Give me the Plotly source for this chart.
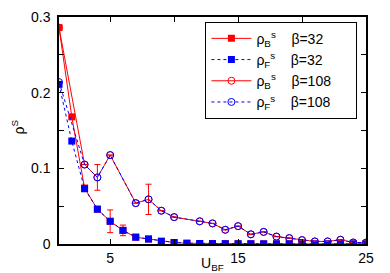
import plotly.graph_objects as go

# ---- data ----
U32 = list(range(1, 26))
rhoB32 = [0.286, 0.168, 0.074, 0.046, 0.030, 0.018, 0.009, 0.0066, 0.0036, 0.002,
          0.001, 0.0007, 0.0005, 0.0004, 0.0003, 0.0003, 0.0002, 0.0002, 0.0002, 0.0001,
          0.0001, 0.0001, 0.0001, 0.0001, 0.0001]
rhoF32 = [0.211, 0.136, 0.073, 0.046, 0.030, 0.018, 0.009, 0.0066, 0.0036, 0.002,
          0.001, 0.0007, 0.0005, 0.0004, 0.0003, 0.0003, 0.0002, 0.0002, 0.0002, 0.0001,
          0.0001, 0.0001, 0.0001, 0.0001, 0.0001]
errB32 = [None, None, None, None, 0.015, 0.007] + [None] * 19

U108 = [1, 3, 4, 5, 7, 8, 9, 10, 12, 13, 14, 15, 16, 17, 18, 19, 20, 21, 22, 23, 24, 25]
rhoB108 = [0.286, 0.105, 0.088, 0.1175, 0.054, 0.059, 0.044, 0.0355, 0.0300, 0.0272,
           0.0188, 0.0236, 0.0128, 0.016, 0.0098, 0.0078, 0.0052, 0.0034, 0.0034, 0.0056,
           0.002, 0.0018]
rhoF108 = [0.214, 0.105, 0.088, 0.1175, 0.054, 0.059, 0.044, 0.0355, 0.0300, 0.0272,
           0.0188, 0.0236, 0.0128, 0.016, 0.0098, 0.0078, 0.0052, 0.0034, 0.0034, 0.0056,
           0.002, 0.0018]
errB108 = [None, None, 0.017, None, None, 0.020] + [None] * 16

xtick_vals = [5, 10, 15, 20, 25]
xtick_text = ["5", "", "15", "", "25"]
ytick_vals = [0, 0.05, 0.1, 0.15, 0.2, 0.25, 0.3]
ytick_text = ["0", "", "0.1", "", "0.2", "", "0.3"]

names = [
    "ρ<sub>B</sub><sup>s</sup>\u00a0\u00a0\u00a0\u00a0β=32",
    "ρ<sub>F</sub><sup>s</sup>\u00a0\u00a0\u00a0\u00a0β=32",
    "ρ<sub>B</sub><sup>s</sup>\u00a0\u00a0\u00a0\u00a0β=108",
    "ρ<sub>F</sub><sup>s</sup>\u00a0\u00a0\u00a0\u00a0β=108",
]
PAD = "\u00a0" * 7

RED = "#ff0000"
BLUE = "#0000ff"
FONT = "Liberation Sans, Arial, sans-serif"

fig = go.Figure()
fig.add_trace(go.Scatter(
    x=U32, y=rhoB32, mode="lines+markers", name=names[0] + PAD,
    line=dict(color=RED, width=1),
    marker=dict(symbol="square", size=7, color=RED),
    error_y=dict(type="data", array=errB32, visible=True, color=RED, thickness=1, width=3),
))
fig.add_trace(go.Scatter(
    x=U32, y=rhoF32, mode="lines+markers", name=names[1],
    line=dict(color=BLUE, width=1, dash="dot"),
    marker=dict(symbol="square", size=7, color=BLUE),
))
fig.add_trace(go.Scatter(
    x=U108, y=rhoB108, mode="lines+markers", name=names[2],
    line=dict(color=RED, width=1),
    marker=dict(symbol="circle-open", size=7, color=RED, line=dict(width=1)),
    error_y=dict(type="data", array=errB108, visible=True, color=RED, thickness=1, width=3),
))
fig.add_trace(go.Scatter(
    x=U108, y=rhoF108, mode="lines+markers", name=names[3],
    line=dict(color=BLUE, width=1, dash="dot"),
    marker=dict(symbol="circle-open", size=7, color=BLUE, line=dict(width=1)),
))

axis_common = dict(
    showgrid=False, zeroline=False, showline=True, linecolor="black", linewidth=1.5,
    mirror="ticks", ticks="inside", ticklen=5, tickcolor="black", tickwidth=1,
    tickfont=dict(family=FONT, size=14, color="black"), automargin=False,
)
fig.update_xaxes(range=[1, 25], tickmode="array", tickvals=xtick_vals, ticktext=xtick_text,
                 **axis_common)
fig.update_yaxes(range=[0, 0.3], tickmode="array", tickvals=ytick_vals, ticktext=ytick_text,
                 ticklabelstandoff=4, **axis_common)

fig.add_annotation(text="U<sub>BF</sub>", xref="paper", yref="paper", x=0.5, y=0,
                   yshift=-9, xanchor="center", yanchor="top", showarrow=False,
                   font=dict(family=FONT, size=14, color="black"))
fig.add_annotation(text="ρ<sup>S</sup>", xref="paper", yref="paper", x=0, y=0.5,
                   xshift=-41, yshift=3, textangle=-90, xanchor="center", yanchor="middle",
                   showarrow=False, font=dict(family=FONT, size=14, color="black"))

fig.update_layout(
    width=390, height=273,
    margin=dict(l=59, r=24, t=17, b=29, autoexpand=False),
    plot_bgcolor="white", paper_bgcolor="white",
    showlegend=True,
    legend=dict(x=0.972, y=0.979, xanchor="right", yanchor="top",
                bgcolor="white", bordercolor="black", borderwidth=1,
                font=dict(family=FONT, size=14, color="black"),
                tracegroupgap=0, itemwidth=40),
    font=dict(family=FONT),
)

fig.write_html("out.html", config={"displayModeBar": False},
               post_script="document.body.style.margin='0';")
